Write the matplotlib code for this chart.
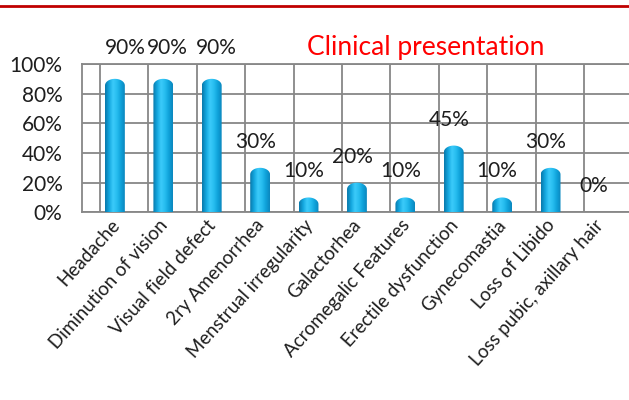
import numpy as np
import matplotlib.pyplot as plt
import matplotlib.transforms as mtransforms
from matplotlib.path import Path
from matplotlib.patches import PathPatch
from matplotlib.colors import LinearSegmentedColormap
from matplotlib.lines import Line2D

categories = ['Headache', 'Diminution of vision', 'Visual field defect', '2ry Amenorrhea',
              'Menstrual irregularity', 'Galactorhea', 'Acromegalic Features',
              'Erectile dysfunction', 'Gynecomastia', 'Loss of Libido',
              'Loss pubic, axillary hair']
values = [90, 90, 90, 30, 10, 20, 10, 45, 10, 30, 0]
yticks = [0, 20, 40, 60, 80, 100]

plt.rcParams['font.family'] = ['Lato', 'DejaVu Sans']

fig = plt.figure(figsize=(6.29, 4.0), dpi=100)
ax = fig.add_axes([82 / 629, 1 - 212.3 / 400, 1 - 82 / 629, (212.3 - 64) / 400])

x = np.arange(len(categories))
ax.set_xlim(-0.68, 10.62)
ax.set_ylim(0, 100)

# grid (back wall of the excel 3d chart, shifted from the bars)
grid_c = '#878787'
ax.set_xticks(x - 0.31, minor=True)
ax.set_yticks(yticks)
ax.set_yticklabels([f'{v}%' for v in yticks], fontsize=15, color='#1e1e1e')
ax.tick_params(axis='y', length=0, pad=14)
ax.tick_params(axis='x', which='both', length=0)
ax.grid(True, which='minor', axis='x', color=grid_c, lw=1.3)
ax.grid(True, which='major', axis='y', color=grid_c, lw=1.3)
for s in ['left', 'bottom', 'top']:
    ax.spines[s].set_color(grid_c)
    ax.spines[s].set_linewidth(1.3)
ax.spines['right'].set_visible(False)
ax.set_axisbelow(True)

ax.set_xticks(x)
ax.set_xticklabels(categories, rotation=48, ha='right', va='top',
                   rotation_mode='anchor', fontsize=13.5, color='#1e1e1e')
ax.tick_params(axis='x', which='major', pad=3)
shift = mtransforms.ScaledTranslation(-5 / 100, 0, fig.dpi_scale_trans)
for lbl in ax.get_xticklabels():
    lbl.set_transform(lbl.get_transform() + shift)

# cylinder-looking bars
cmap = LinearSegmentedColormap.from_list('cyl', ['#0a78aa', '#12a6de', '#3ccbfa', '#27bdf0',
                                                 '#0fa2da', '#0b86bd'])
grad = np.linspace(0, 1, 64).reshape(1, -1)
w = 0.41
cap = 4.5  # height of the rounded top, in % units
for xi, v in zip(x, values):
    if v <= 0:
        continue
    x0, x1 = xi - w / 2, xi + w / 2
    r = min(cap, v / 2)
    t = np.linspace(np.pi, 0, 30)
    arc = np.column_stack([xi + w / 2 * np.cos(t), v - r + r * np.sin(t)])
    verts = np.vstack([[x0, 0], [x0, v - r], arc, [x1, v - r], [x1, 0], [x0, 0]])
    codes = [Path.MOVETO] + [Path.LINETO] * (len(verts) - 2) + [Path.CLOSEPOLY]
    patch = PathPatch(Path(verts, codes), facecolor='none', edgecolor='none', zorder=3)
    ax.add_patch(patch)
    im = ax.imshow(grad, cmap=cmap, extent=(x0, x1, 0, v), aspect='auto',
                   interpolation='bicubic', zorder=3)
    im.set_clip_path(patch)

# data labels (excel moved the first three to avoid overlap)
dx_px = [10, 4, 5] + [-5] * 8
dy_px = [31, 31, 31] + [26] * 8
for xi, v, dx, dy in zip(x, values, dx_px, dy_px):
    ax.annotate(f'{v}%', (xi, v), xytext=(dx * 0.72, dy * 0.72), textcoords='offset points',
                ha='center', va='center', fontsize=15, color='#1e1e1e', annotation_clip=False)

fig.text(426 / 629, 1 - 47 / 400, 'Clinical presentation', color='#ff0000',
         fontsize=19, ha='center', va='center')

# red rule from the page above the chart
fig.add_artist(Line2D([0, 1], [1 - 5.5 / 400, 1 - 5.5 / 400], color='#c00000', lw=2.0))

fig.savefig('out.png', dpi=100)
